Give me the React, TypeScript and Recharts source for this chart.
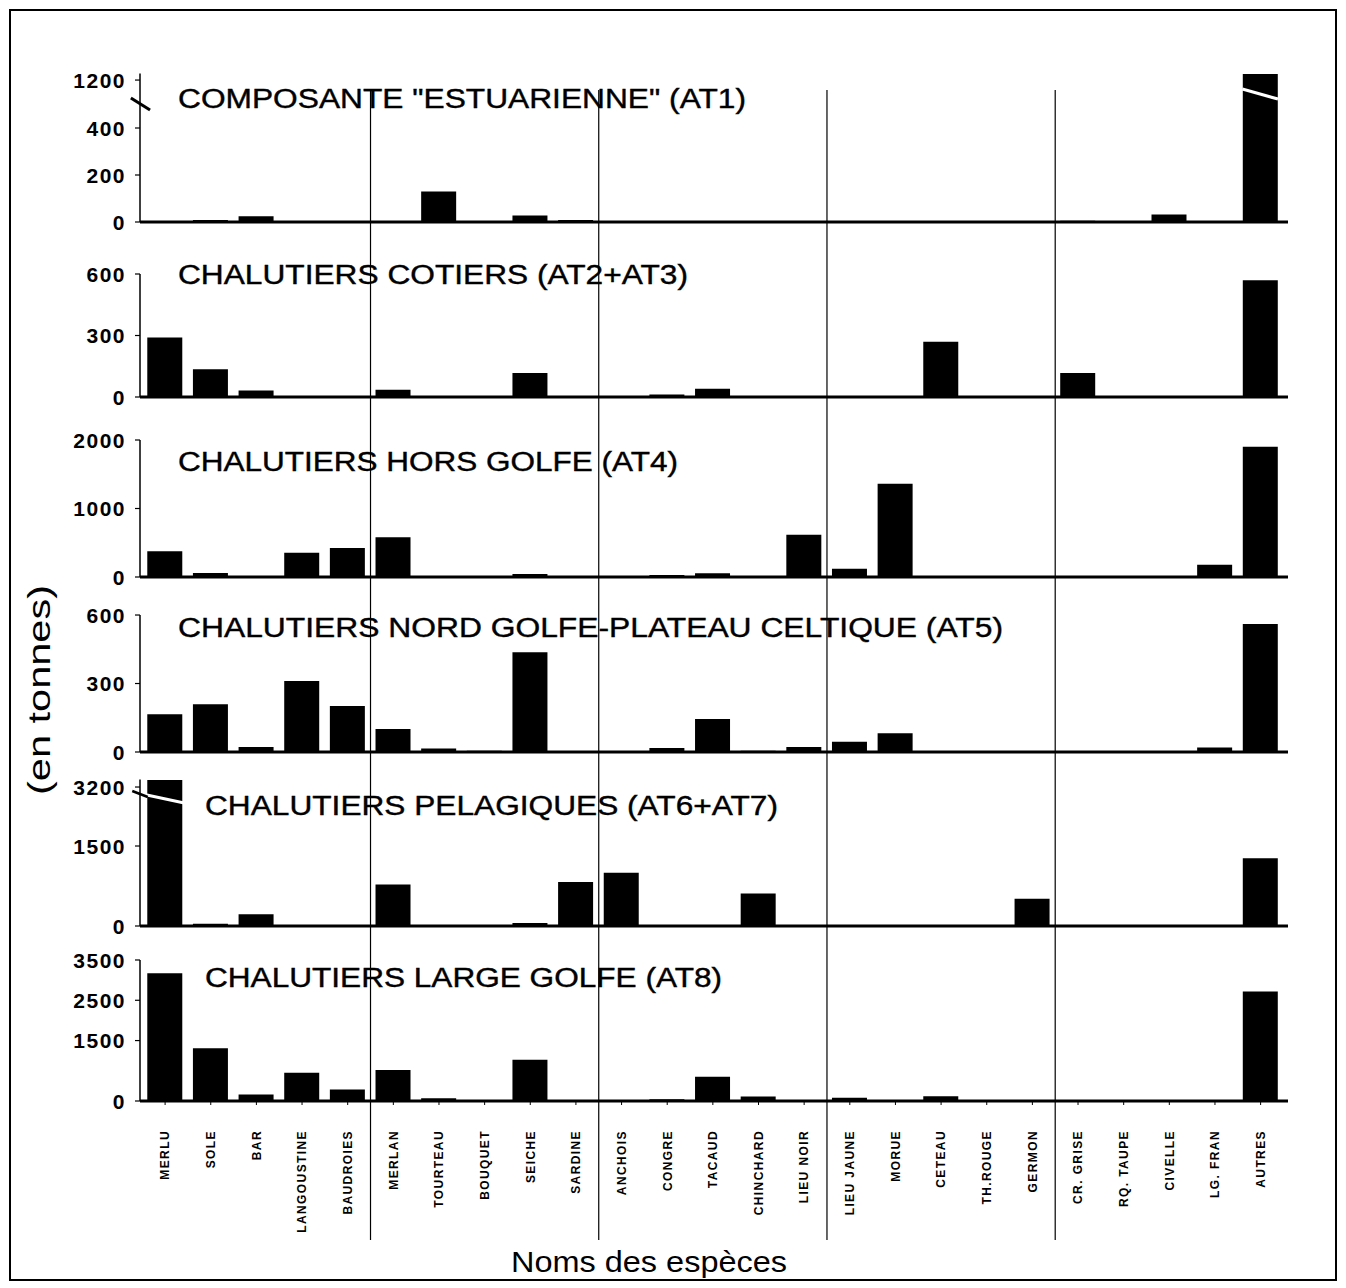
import React from 'react';
import { BarChart, Bar, XAxis, YAxis, ReferenceLine } from 'recharts';

// ---------- DATA ----------
const species = [
  'MERLU', 'SOLE', 'BAR', 'LANGOUSTINE', 'BAUDROIES',
  'MERLAN', 'TOURTEAU', 'BOUQUET', 'SEICHE', 'SARDINE',
  'ANCHOIS', 'CONGRE', 'TACAUD', 'CHINCHARD', 'LIEU NOIR',
  'LIEU JAUNE', 'MORUE', 'CETEAU', 'TH.ROUGE', 'GERMON',
  'CR. GRISE', 'RQ. TAUPE', 'CIVELLE', 'LG. FRAN', 'AUTRES',
];

// landings in tonnes, by fleet component
const at1 = [2, 8, 25, 0, 1, 3, 130, 0, 28, 8, 2, 0, 3, 0, 0, 2, 0, 3, 0, 0, 5, 0, 32, 0, 1300];
const at2at3 = [290, 135, 32, 0, 2, 35, 0, 0, 117, 0, 0, 12, 40, 0, 0, 0, 0, 270, 0, 0, 117, 0, 0, 0, 570];
const at4 = [375, 60, 0, 355, 425, 580, 0, 0, 45, 0, 0, 30, 55, 10, 615, 120, 1360, 0, 5, 0, 0, 0, 0, 180, 1900];
const at5 = [165, 209, 22, 311, 202, 101, 15, 5, 437, 0, 0, 17, 145, 5, 22, 45, 82, 0, 0, 0, 0, 0, 0, 20, 561];
const at6at7 = [3400, 40, 220, 20, 5, 780, 0, 0, 55, 825, 1000, 8, 8, 610, 0, 0, 0, 0, 0, 510, 0, 0, 0, 0, 1270];
const at8 = [3170, 1310, 160, 700, 285, 770, 70, 0, 1025, 0, 20, 45, 600, 110, 5, 80, 0, 120, 0, 0, 0, 0, 0, 0, 2720];

const titles = [
  'COMPOSANTE "ESTUARIENNE" (AT1)',
  'CHALUTIERS COTIERS (AT2+AT3)',
  'CHALUTIERS HORS GOLFE (AT4)',
  'CHALUTIERS NORD GOLFE-PLATEAU CELTIQUE (AT5)',
  'CHALUTIERS PELAGIQUES (AT6+AT7)',
  'CHALUTIERS LARGE GOLFE (AT8)',
];

const yTicks1 = [0, 200, 400, 1200];
const yTicks2 = [0, 300, 600];
const yTicks3 = [0, 1000, 2000];
const yTicks4 = [0, 300, 600];
const yTicks5 = [0, 1500, 3200];
const yTicks6 = [0, 1500, 2500, 3500];

// group boundaries between species families (in category index units)
const groupBounds = [4.5, 9.5, 14.5, 19.5];

const yAxisTitle = '(en tonnes)';
const xAxisTitle = 'Noms des espèces';

// ---------- LAYOUT ----------
type Brk = { lo: number; hi: number; hiAt: number } | null;
const disp = (v: number, brk: Brk) =>
  !brk || v <= brk.lo ? v : brk.lo + ((v - brk.lo) * (brk.hiAt - brk.lo)) / (brk.hi - brk.lo);

const FONT = '"Liberation Sans", Arial, Helvetica, sans-serif';
const PAGE = 8;
const CHART_W = 1320;
const X_DOMAIN: [number, number] = [-0.55, 24.6];
const xTickIdx = species.map((_, i) => i);

const panels = [
  { values: at1, ticks: yTicks1, brk: { lo: 400, hi: 1200, hiAt: 604 }, baseline: 222, ppu: 0.235, max: 632, sliceTop: 56, sliceBottom: 250, lineTop: 90, titleX: 178, titleY: 108, titleW: 568, brkMarks: 'top' },
  { values: at2at3, ticks: yTicks2, brk: null, baseline: 397, ppu: 0.205, max: 600, sliceTop: 250, sliceBottom: 420, titleX: 178, titleY: 284, titleW: 510 },
  { values: at4, ticks: yTicks3, brk: null, baseline: 577, ppu: 0.0685, max: 2000, sliceTop: 420, sliceBottom: 596, titleX: 178, titleY: 471, titleW: 500 },
  { values: at5, ticks: yTicks4, brk: null, baseline: 752, ppu: 0.2283, max: 600, sliceTop: 596, sliceBottom: 770, titleX: 178, titleY: 637, titleW: 825 },
  { values: at6at7, ticks: yTicks5, brk: { lo: 1500, hi: 3200, hiAt: 2606 }, baseline: 926, ppu: 0.05333, max: 2745, sliceTop: 770, sliceBottom: 945, titleX: 205, titleY: 815, titleW: 573, brkMarks: 'first' },
  { values: at8, ticks: yTicks6, brk: null, baseline: 1101, ppu: 0.04029, max: 3500, sliceTop: 945, sliceBottom: 1245, lineBottom: 1240, titleX: 205, titleY: 987, titleW: 517 },
];

const YTick = (props: any) => {
  const { x, y, payload, labels, brk } = props;
  const idx = labels.findIndex((t: number) => Math.abs(disp(t, brk) - payload.value) < 1e-6);
  return (
    <text x={x} y={y} dy="0.36em" textAnchor="end" fontSize={21} fontWeight="bold" fontFamily={FONT} fill="#000" letterSpacing={1.5}>
      {idx >= 0 ? labels[idx] : ''}
    </text>
  );
};

const XTick = (props: any) => {
  const { x, y, payload } = props;
  const ty = y + 23;
  return (
    <text
      x={x}
      y={ty}
      dy="0.36em"
      transform={`rotate(-90 ${x} ${ty})`}
      textAnchor="end"
      fontSize={12}
      fontWeight="bold"
      fontFamily={FONT}
      letterSpacing={1.4}
      fill="#000"
    >
      {species[payload.value]}
    </text>
  );
};

function Panel({ cfg, last }: { cfg: any; last: boolean }) {
  const { values, brk, ticks, baseline, ppu, max, sliceTop, sliceBottom } = cfg;
  const H = sliceBottom - sliceTop;
  const xH = last ? 140 : 4;
  const plotTop = baseline - max * ppu;
  const margin = { top: plotTop - sliceTop, right: 40, bottom: sliceBottom - baseline - xH, left: 0 };
  const data = values.map((v: number, i: number) => ({ i, v: disp(v, brk) }));
  const lineTop = cfg.lineTop ?? sliceTop - 1;
  const lineBottom = cfg.lineBottom ?? sliceBottom + 1;
  const yTop = (baseline - lineTop) / ppu;
  const yBot = (baseline - lineBottom) / ppu;
  const u = 1 / ppu; // display units per pixel

  return (
    <div style={{ position: 'absolute', left: 0, top: sliceTop - PAGE, width: CHART_W, height: H }}>
      <BarChart width={CHART_W} height={H} data={data} margin={margin} barCategoryGap={0}>
        <XAxis
          dataKey="i"
          type="number"
          domain={X_DOMAIN}
          allowDataOverflow
          ticks={xTickIdx}
          interval={0}
          height={xH}
          tickSize={4}
          tickMargin={2}
          axisLine={{ stroke: '#000', strokeWidth: 3 }}
          tickLine={{ stroke: '#000', strokeWidth: 1 }}
          tick={last ? (p: any) => <XTick {...p} /> : false}
        />
        <YAxis
          type="number"
          domain={[0, max]}
          allowDataOverflow
          ticks={ticks.map((t: number) => disp(t, brk))}
          interval={0}
          width={132}
          tickSize={5}
          tickMargin={9}
          axisLine={{ stroke: '#000', strokeWidth: 1.5 }}
          tickLine={{ stroke: '#000', strokeWidth: 1.2 }}
          tick={(p: any) => <YTick {...p} labels={ticks} brk={brk} />}
        />
        {groupBounds.map((gx) => (
          <ReferenceLine
            key={gx}
            ifOverflow="visible"
            segment={[{ x: gx, y: yBot }, { x: gx, y: yTop }]}
            stroke="#000"
            strokeWidth={1.2}
          />
        ))}
        <Bar dataKey="v" fill="#000" barSize={35} isAnimationActive={false} />
        {cfg.brkMarks === 'top' && brk && (
          <ReferenceLine
            ifOverflow="visible"
            segment={[{ x: -0.75, y: brk.hiAt - 18 * u }, { x: -0.33, y: brk.hiAt - 30 * u }]}
            stroke="#000"
            strokeWidth={3}
          />
        )}
        {cfg.brkMarks === 'top' && brk && (
          <ReferenceLine
            ifOverflow="visible"
            segment={[{ x: 23.6, y: brk.hiAt - 9 * u }, { x: 24.38, y: brk.hiAt - 19 * u }]}
            stroke="#fff"
            strokeWidth={3}
          />
        )}
        {cfg.brkMarks === 'first' && brk && (
          <ReferenceLine
            ifOverflow="visible"
            segment={[{ x: -0.4, y: brk.hiAt - 8 * u }, { x: 0.42, y: brk.hiAt - 16 * u }]}
            stroke="#fff"
            strokeWidth={3}
          />
        )}
        {cfg.brkMarks === 'first' && brk && (
          <ReferenceLine
            ifOverflow="visible"
            segment={[{ x: -0.72, y: brk.hiAt - 4 * u }, { x: -0.38, y: brk.hiAt - 10 * u }]}
            stroke="#000"
            strokeWidth={2.5}
          />
        )}
      </BarChart>
    </div>
  );
}

export default function App() {
  return (
    <div style={{ position: 'relative', width: 1330, height: 1276, background: '#fff' }}>
      {panels.map((cfg, k) => (
        <Panel key={k} cfg={cfg} last={k === panels.length - 1} />
      ))}
      <svg
        width={1330}
        height={1276}
        style={{ position: 'absolute', left: 0, top: 0, pointerEvents: 'none' }}
      >
        <g transform={`translate(${-PAGE}, ${-PAGE})`}>
          {panels.map((cfg, k) => (
            <text
              key={k}
              x={cfg.titleX}
              y={cfg.titleY}
              fontSize={27}
              fontFamily={FONT}
              fill="#000"
              stroke="#000"
              strokeWidth={0.4}
              textLength={cfg.titleW}
              lengthAdjust="spacingAndGlyphs"
            >
              {titles[k]}
            </text>
          ))}
          <text
            x={50}
            y={690}
            transform="rotate(-90 50 690)"
            textAnchor="middle"
            fontSize={31}
            fontFamily={FONT}
            fill="#000"
            textLength={210}
            lengthAdjust="spacingAndGlyphs"
          >
            {yAxisTitle}
          </text>
          <text
            x={511}
            y={1272}
            fontSize={30}
            fontFamily={FONT}
            fill="#000"
            textLength={276}
            lengthAdjust="spacingAndGlyphs"
          >
            {xAxisTitle}
          </text>
        </g>
      </svg>
      <div
        style={{
          position: 'absolute',
          left: 1,
          top: 1,
          width: 1328,
          height: 1272,
          border: '2px solid #000',
          boxSizing: 'border-box',
          pointerEvents: 'none',
        }}
      />
    </div>
  );
}
